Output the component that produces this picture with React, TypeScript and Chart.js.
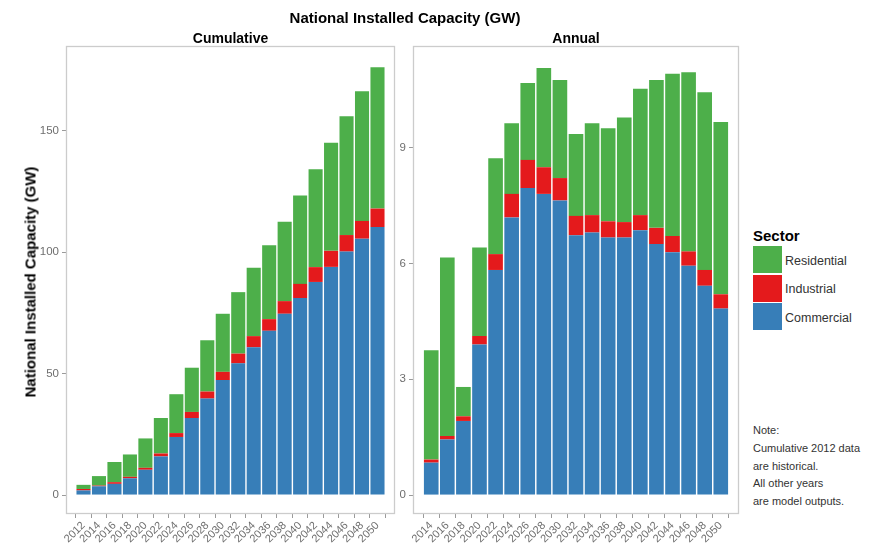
import React, { useEffect, useRef } from "react";
import { Chart, registerables } from "chart.js";

Chart.register(...registerables);

const FONT = "'Liberation Sans', Arial, Helvetica, sans-serif";
const BLUE = "#377EB8";
const RED = "#E41A1C";
const GREEN = "#4DAF4A";

const chartTitle = "National Installed Capacity (GW)";
const yAxisTitle = "National Installed Capacity (GW)";
const panelTitles = ["Cumulative", "Annual"];
const legendTitle = "Sector";
const sectors = ["Residential", "Industrial", "Commercial"];
const noteLines = ["Note:", "Cumulative 2012 data", "are historical.", "All other years", "are model outputs."];

// Cumulative panel
const cumYears = [2012, 2014, 2016, 2018, 2020, 2022, 2024, 2026, 2028, 2030, 2032, 2034, 2036, 2038, 2040, 2042, 2044, 2046, 2048, 2050];
const cumCommercial = [1.9, 3.6, 4.6, 6.9, 10.4, 15.9, 23.9, 31.7, 39.7, 47.3, 54.2, 60.8, 67.6, 74.6, 81.1, 87.7, 93.9, 100.2, 105.5, 110.3];
const cumIndustrial = [0.6, 0.3, 0.7, 0.6, 0.8, 1.2, 1.6, 2.5, 2.9, 3.4, 4.0, 4.6, 4.8, 5.2, 5.8, 6.1, 6.6, 6.8, 7.3, 7.6];
const cumResidential = [1.7, 3.9, 8.3, 9.2, 12.1, 14.6, 16.0, 18.2, 21.1, 23.9, 25.3, 28.1, 30.4, 32.7, 36.4, 40.3, 44.5, 48.9, 53.4, 58.2];
const cumYTicks = [0, 50, 100, 150];

// Annual panel
const annYears = [2014, 2016, 2018, 2020, 2022, 2024, 2026, 2028, 2030, 2032, 2034, 2036, 2038, 2040, 2042, 2044, 2046, 2048, 2050];
const annCommercial = [0.84, 1.44, 1.92, 3.9, 5.83, 7.19, 7.95, 7.8, 7.63, 6.73, 6.8, 6.67, 6.67, 6.86, 6.5, 6.29, 5.94, 5.42, 4.83];
const annIndustrial = [0.08, 0.09, 0.12, 0.22, 0.41, 0.61, 0.73, 0.69, 0.58, 0.5, 0.45, 0.42, 0.4, 0.39, 0.42, 0.42, 0.37, 0.41, 0.37];
const annResidential = [2.83, 4.62, 0.76, 2.29, 2.48, 1.83, 1.99, 2.57, 2.54, 2.12, 2.38, 2.41, 2.71, 3.27, 3.83, 4.2, 4.64, 4.6, 4.46];
const annYTicks = [0, 3, 6, 9];

const panelBorder = {
  id: "panelBorder",
  afterDatasetsDraw(chart: any) {
    const { ctx, chartArea } = chart;
    ctx.save();
    ctx.strokeStyle = "#cccccc";
    ctx.lineWidth = 1.3;
    ctx.strokeRect(chartArea.left + 0.5, chartArea.top + 0.5, chartArea.right - chartArea.left - 1, chartArea.bottom - chartArea.top - 1);
    ctx.restore();
  },
};

function makeConfig(
  years: number[],
  com: number[],
  ind: number[],
  res: number[],
  yTicks: number[],
  yMin: number,
  yMax: number,
  yAxisWidth: number,
  rightPad: number
): any {
  const pts = (arr: number[]) => years.map((y, i) => ({ x: y, y: arr[i] }));
  return {
    type: "bar",
    data: {
      datasets: [
        { label: "Commercial", data: pts(com), backgroundColor: BLUE },
        { label: "Industrial", data: pts(ind), backgroundColor: RED },
        { label: "Residential", data: pts(res), backgroundColor: GREEN },
      ],
    },
    options: {
      animation: false,
      responsive: false,
      maintainAspectRatio: false,
      layout: { padding: { top: 46, right: rightPad, left: 0, bottom: 0 } },
      datasets: { bar: { barPercentage: 0.91, categoryPercentage: 1 } },
      plugins: { legend: { display: false }, tooltip: { enabled: false }, title: { display: false } },
      scales: {
        x: {
          type: "linear",
          stacked: true,
          min: years[0] - 1.2,
          max: years[years.length - 1] + 1.2,
          afterBuildTicks: (scale: any) => {
            scale.ticks = years.map((v) => ({ value: v }));
          },
          afterFit: (scale: any) => {
            scale.height = 35;
          },
          grid: { display: true, drawOnChartArea: false, drawTicks: true, tickLength: 4, color: "#9a9a9a" },
          border: { display: false },
          ticks: {
            autoSkip: false,
            minRotation: 45,
            maxRotation: 45,
            padding: 1,
            color: "#6e6e6e",
            font: { family: FONT, size: 11 },
            callback: (v: any) => String(v),
          },
        },
        y: {
          type: "linear",
          stacked: true,
          min: yMin,
          max: yMax,
          afterBuildTicks: (scale: any) => {
            scale.ticks = yTicks.map((v) => ({ value: v }));
          },
          afterFit: (scale: any) => {
            scale.width = yAxisWidth;
          },
          grid: { display: true, drawOnChartArea: false, drawTicks: true, tickLength: 4, color: "#9a9a9a" },
          border: { display: false },
          ticks: {
            padding: 3,
            color: "#6e6e6e",
            font: { family: FONT, size: 11.5 },
            callback: (v: any) => String(v),
          },
        },
      },
    },
    plugins: [panelBorder],
  };
}

function Panel(props: { cfg: any; left: number; width: number }) {
  const ref = useRef<HTMLCanvasElement | null>(null);
  useEffect(() => {
    if (!ref.current) return;
    const chart = new Chart(ref.current, props.cfg);
    return () => chart.destroy();
  }, []);
  return (
    <canvas
      ref={ref}
      width={props.width}
      height={549}
      style={{ position: "absolute", left: props.left, top: 0, width: props.width, height: 549 }}
    />
  );
}

const textBase: React.CSSProperties = { position: "absolute", fontFamily: FONT, whiteSpace: "nowrap" };

export default function App() {
  const cumCfg = makeConfig(cumYears, cumCommercial, cumIndustrial, cumResidential, cumYTicks, -7.8, 184.8, 66, 5);
  const annCfg = makeConfig(annYears, annCommercial, annIndustrial, annResidential, annYTicks, -0.49, 11.63, 17, 6);
  const legendColors = [GREEN, RED, BLUE];
  return (
    <div style={{ position: "absolute", left: 0, top: 0, width: 877, height: 549, background: "#fff", overflow: "hidden" }}>
      <Panel cfg={cumCfg} left={0} width={400} />
      <Panel cfg={annCfg} left={396} width={349} />
      <div style={{ ...textBase, left: 405, top: 17, transform: "translate(-50%, -50%)", fontWeight: "bold", fontSize: 15, color: "#000" }}>
        {chartTitle}
      </div>
      <div style={{ ...textBase, left: 230.5, top: 38, transform: "translate(-50%, -50%)", fontWeight: "bold", fontSize: 14, color: "#000" }}>
        {panelTitles[0]}
      </div>
      <div style={{ ...textBase, left: 576, top: 38, transform: "translate(-50%, -50%)", fontWeight: "bold", fontSize: 14, color: "#000" }}>
        {panelTitles[1]}
      </div>
      <div
        style={{
          ...textBase,
          left: 30,
          top: 282,
          transform: "translate(-50%, -50%) rotate(-90deg)",
          fontWeight: "bold",
          fontSize: 15,
          color: "#000",
        }}
      >
        {yAxisTitle}
      </div>
      <div style={{ ...textBase, left: 753, top: 227, fontWeight: "bold", fontSize: 15, color: "#000" }}>{legendTitle}</div>
      {sectors.map((s, i) => (
        <React.Fragment key={s}>
          <div
            style={{
              position: "absolute",
              left: 753,
              top: 246 + i * 28.5,
              width: 29,
              height: 27,
              background: legendColors[i],
            }}
          />
          <div style={{ ...textBase, left: 785, top: 260.5 + i * 28.7, transform: "translateY(-50%)", fontSize: 12.5, color: "#333" }}>
            {s}
          </div>
        </React.Fragment>
      ))}
      {noteLines.map((l, i) => (
        <div key={l} style={{ ...textBase, left: 753, top: 430 + i * 17.8, transform: "translateY(-50%)", fontSize: 11, color: "#333" }}>
          {l}
        </div>
      ))}
    </div>
  );
}
